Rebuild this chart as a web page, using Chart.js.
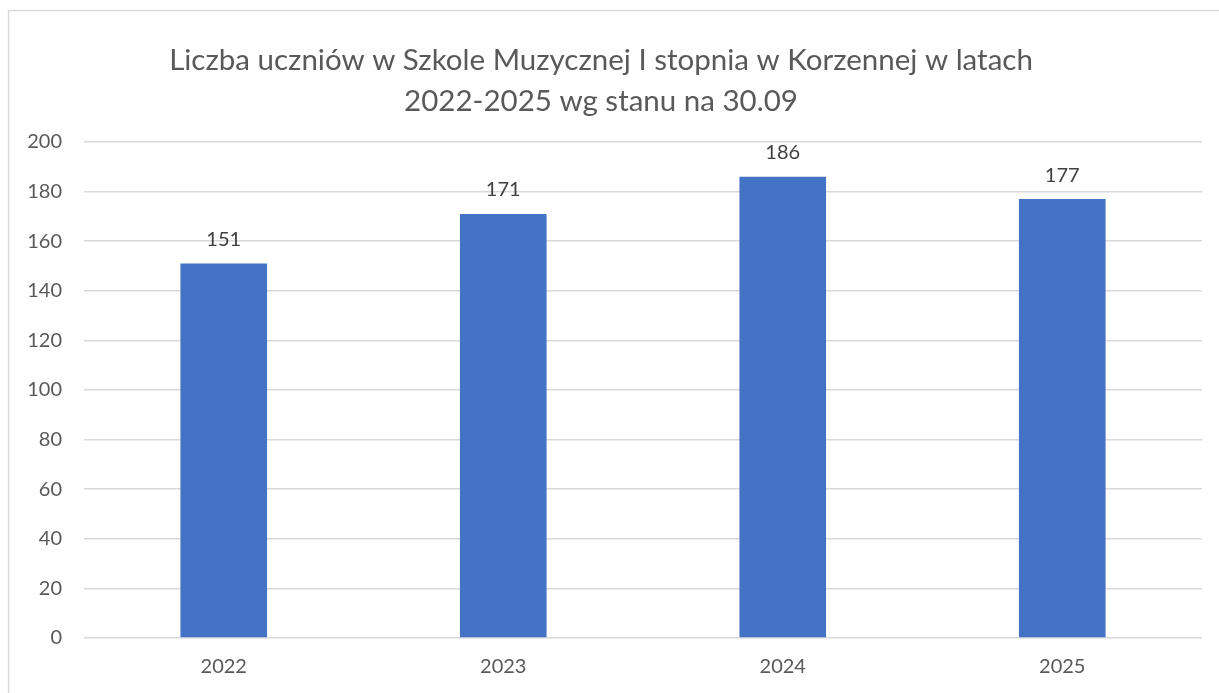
<!DOCTYPE html>
<html>
<head>
<meta charset="utf-8">
<script src="https://cdn.jsdelivr.net/npm/chart.js@4"></script>
<style>
  html, body { margin: 0; padding: 0; background: #fff; }
  #wrap { width: 1219px; height: 693px; position: relative; }
</style>
</head>
<body>
<div id="wrap"><canvas id="chart" width="1219" height="693"></canvas></div>
<script>
// dane
const years = ['2022', '2023', '2024', '2025'];
const students = [151, 171, 186, 177];
const titleLines = ['Liczba uczniów w Szkole Muzycznej I stopnia w Korzennej w latach', '2022-2025 wg stanu na 30.09'];

const fontFamily = 'Lato, "Open Sans", "Noto Sans", sans-serif';

// ramka wykresu
const framePlugin = {
    id: 'frame',
    beforeDraw(chart) {
        const ctx = chart.ctx;
        ctx.save();
        ctx.fillStyle = '#fff';
        ctx.fillRect(0, 0, chart.width, chart.height);
        ctx.strokeStyle = '#d9d9d9';
        ctx.lineWidth = 1.5;
        ctx.strokeRect(8.5, 10.5, chart.width + 20, chart.height + 20);
        ctx.restore();
    }
};

// etykiety wartości nad słupkami
const valueLabels = {
    id: 'valueLabels',
    afterDatasetsDraw(chart) {
        const ctx = chart.ctx;
        const meta = chart.getDatasetMeta(0);
        ctx.save();
        ctx.font = '20px ' + fontFamily;
        ctx.fillStyle = '#404040';
        ctx.textAlign = 'center';
        ctx.textBaseline = 'bottom';
        meta.data.forEach(function(bar, i) {
            ctx.fillText(chart.data.datasets[0].data[i], bar.x, bar.y - 14);
        });
        ctx.restore();
    }
};

const ctx = document.getElementById('chart').getContext('2d');
new Chart(ctx, {
    type: 'bar',
    data: {
        labels: years,
        datasets: [{
            data: students,
            backgroundColor: '#4472C4',
            borderWidth: 0,
            categoryPercentage: 1,
            barPercentage: 0.31
        }]
    },
    options: {
        responsive: false,
        animation: false,
        layout: { padding: { left: 0, right: 17, top: 0, bottom: 0 } },
        plugins: {
            legend: { display: false },
            tooltip: { enabled: false },
            title: {
                display: true,
                text: titleLines,
                color: '#595959',
                font: { family: fontFamily, size: 29.5, weight: 'normal', lineHeight: 1.39 },
                padding: { top: 40, bottom: 20 }
            }
        },
        scales: {
            x: {
                afterFit(scale) { scale.height = 55; },
                grid: { display: false, drawTicks: false },
                border: { display: false },
                ticks: { color: '#595959', font: { family: fontFamily, size: 20 }, padding: 17 }
            },
            y: {
                min: 0,
                max: 200,
                afterFit(scale) { scale.width = 84; },
                grid: { color: '#d9d9d9', lineWidth: 1.5, drawTicks: false },
                border: { display: false },
                ticks: { stepSize: 20, color: '#595959', font: { family: fontFamily, size: 20 }, padding: 22 }
            }
        }
    },
    plugins: [framePlugin, valueLabels]
});
</script>
</body>
</html>
